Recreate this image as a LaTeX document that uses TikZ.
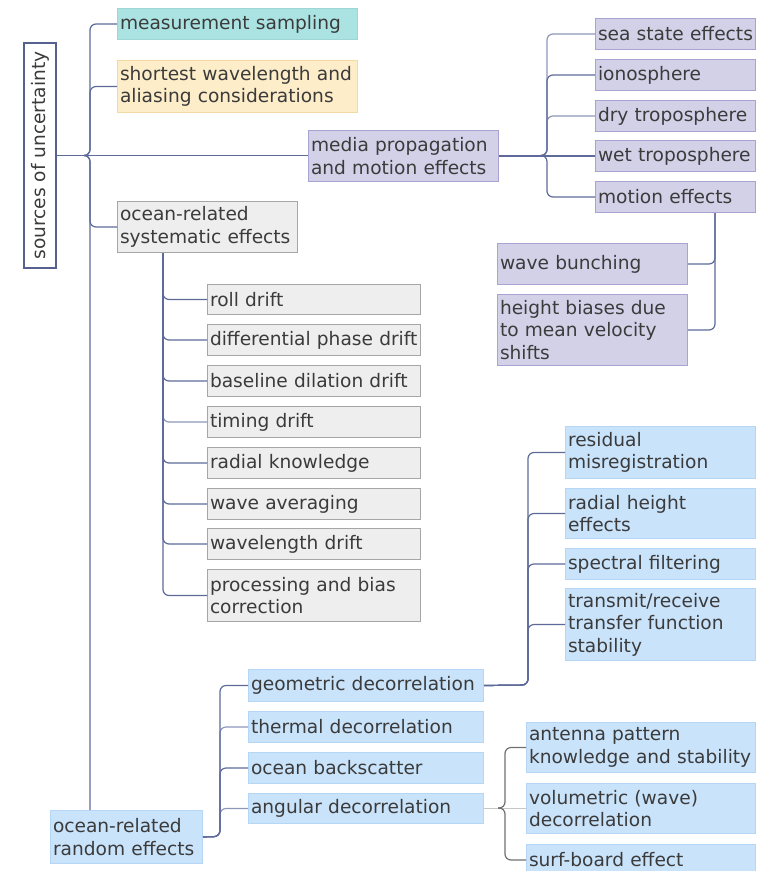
\documentclass[tikz,border=0pt]{standalone}
\usepackage{fontspec}
\setmainfont{DejaVu Sans}
\usetikzlibrary{calc}
\hyphenpenalty=10000
\exhyphenpenalty=10000

\definecolor{txt}{HTML}{3B3B3B}
\definecolor{lnk}{HTML}{5D6A9A}
\definecolor{lnklight}{HTML}{8E97BA}
\definecolor{bracegray}{HTML}{707070}
\definecolor{bracelight}{HTML}{C6C6C6}
\definecolor{rootline}{HTML}{56618F}
\definecolor{tealfill}{HTML}{ABE3E3}
\definecolor{tealline}{HTML}{9ED6D6}
\definecolor{yelfill}{HTML}{FDEDC9}
\definecolor{yelline}{HTML}{F3D9A4}
\definecolor{purfill}{HTML}{D3D1E8}
\definecolor{purline}{HTML}{A8A3D3}
\definecolor{gryfill}{HTML}{EEEEEE}
\definecolor{gryline}{HTML}{A6A6A6}
\definecolor{blufill}{HTML}{C9E3FB}
\definecolor{bluline}{HTML}{B6D6F6}

\tikzset{
  box/.style={draw, line width=1pt, anchor=north west, inner xsep=2.5pt,
    inner ysep=0pt, align=left, text=txt,
    font=\fontsize{18.6}{22.5}\selectfont},
  wh/.style 2 args={text width=#1pt-5pt, minimum width=#1pt, minimum height=#2pt},
  tealbox/.style={box, fill=tealfill, draw=tealline},
  yelbox/.style={box, fill=yelfill, draw=yelline},
  purbox/.style={box, fill=purfill, draw=purline},
  grybox/.style={box, fill=gryfill, draw=gryline},
  blubox/.style={box, fill=blufill, draw=bluline},
  rootbox/.style={draw=rootline, line width=1.4pt, fill=white, text=txt,
    inner sep=0pt, rotate=90, font=\fontsize{18.6}{22.5}\selectfont},
  conn/.style={draw=lnk, line width=1.2pt, rounded corners=6pt},
  connl/.style={draw=lnklight, line width=1.2pt, rounded corners=6pt},
  braceline/.style={draw=bracegray, line width=1.2pt, rounded corners=6pt},
  bracelinel/.style={draw=bracelight, line width=1.6pt},
}

\begin{document}
\begin{tikzpicture}[x=1pt, y=-1pt]
\useasboundingbox (0,0) rectangle (756,871);

% root
\node[rootbox, minimum width=225pt, minimum height=32pt] (src) at (40,155.5) {sources of uncertainty};

% first level
\node[tealbox, wh={240}{31}] (meas) at (117,8) {measurement sampling};
\node[yelbox, wh={240}{52}] (short) at (117,60) {shortest wavelength and\\aliasing considerations};
\node[purbox, wh={190}{51}] (media) at (308,130) {media propagation\\and motion effects};
\node[grybox, wh={180}{51}] (syst) at (117,201) {ocean-related\\systematic effects};
\node[blubox, wh={152}{53}] (rand) at (50,810) {ocean-related\\random effects};

% media propagation and motion effects
\node[purbox, wh={159.5}{31}] (sea) at (595,18) {\mbox{sea state effects}};
\node[purbox, wh={159.5}{31}] (iono) at (595,59) {ionosphere};
\node[purbox, wh={159.5}{31}] (dry) at (595,100) {\mbox{dry troposphere}};
\node[purbox, wh={159.5}{31}] (wet) at (595,140) {\mbox{wet troposphere}};
\node[purbox, wh={159.5}{31}] (motion) at (595,181) {\mbox{motion effects}};
\node[purbox, wh={190}{41}] (wb) at (497,243) {wave bunching};
\node[purbox, wh={190}{71}] (hb) at (497,294) {height biases due\\to mean velocity\\shifts};

% systematic effects
\node[grybox, wh={213}{30}] (roll) at (207,284) {roll drift};
\node[grybox, wh={213}{31}] (diff) at (207,324) {\mbox{differential phase drift}};
\node[grybox, wh={213}{31}] (base) at (207,365) {baseline dilation drift};
\node[grybox, wh={213}{31}] (timing) at (207,406) {timing drift};
\node[grybox, wh={213}{31}] (radk) at (207,447) {radial knowledge};
\node[grybox, wh={213}{31}] (wavg) at (207,488) {wave averaging};
\node[grybox, wh={213}{31}] (wld) at (207,528) {wavelength drift};
\node[grybox, wh={213}{52}] (proc) at (207,569) {processing and bias\\correction};

% random effects
\node[blubox, wh={235}{32}] (geo) at (248,669) {\mbox{geometric decorrelation}};
\node[blubox, wh={235}{31}] (therm) at (248,711) {thermal decorrelation};
\node[blubox, wh={235}{31}] (back) at (248,752) {ocean backscatter};
\node[blubox, wh={235}{30}] (ang) at (248,793) {angular decorrelation};

\node[blubox, wh={189.5}{52}] (res) at (565,426) {residual\\misregistration};
\node[blubox, wh={189.5}{50}] (rh) at (565,488) {radial height\\effects};
\node[blubox, wh={189.5}{31}] (spec) at (565,548) {spectral filtering};
\node[blubox, wh={189.5}{72}] (trans) at (565,588) {transmit/receive\\transfer function\\stability};

\node[blubox, wh={228.5}{50}] (ant) at (526,722) {antenna pattern\\\mbox{knowledge and stability}};
\node[blubox, wh={228.5}{50}] (vol) at (526,783) {volumetric (wave)\\decorrelation};
\node[blubox, wh={228.5}{31}] (surf) at (526,844) {surf-board effect};

% ---- connectors ----
% root fan-out
\coordinate (t1) at (84,155.5);
\coordinate (m1) at (90,155.5);
\draw[conn] (src.south) -- (src.south -| media.west);
\draw[conn] (t1) -- (m1) |- (meas.west);
\draw[conn] (t1) -- (m1) |- (short.west);
\draw[conn] (t1) -- (m1) |- (syst.west);
\draw[conn] (t1) -- (m1) -- (m1 |- rand.north);

% systematic effects
\coordinate (s2) at ([xshift=46pt]syst.south west);
\draw[connl] (s2) |- (timing.west);
\foreach \n in {roll,diff,base,radk,wavg,wld,proc}
  \draw[conn] (s2) |- (\n.west);

% media propagation branches
\coordinate (t2) at (541,155.5);
\coordinate (m2) at (547,155.5);
\draw[connl] (t2) -- (m2) |- (sea.west);
\draw[connl] (t2) -- (m2) |- (dry.west);
\draw[conn] (t2) -- (m2) |- (iono.west);
\draw[conn] (t2) -- (m2) |- (motion.west);
\draw[conn] (media.east) -- (media.east -| wet.west);

% motion effects
\coordinate (s3) at ([xshift=120pt]motion.south west);
\draw[conn] (s3) |- (wb.east);
\draw[conn] (s3) |- (hb.east);

% random effects
\coordinate (m4) at (220,836.5);
\draw[connl] (rand.east) -- (m4) |- (therm.west);
\draw[connl] (rand.east) -- (m4) |- (ang.west);
\draw[conn] (rand.east) -- (m4) |- (geo.west);
\draw[conn] (rand.east) -- (m4) |- (back.west);

% geometric decorrelation
\coordinate (m5) at (528,685);
\foreach \n in {res,rh,spec,trans}
  \draw[conn] (geo.east) -- (m5) |- (\n.west);

% angular decorrelation
\coordinate (t6) at (498,808);
\coordinate (m6) at (505,808);
\draw[bracelinel] (ang.east) -- (ang.east -| vol.west);
\draw[braceline] (t6) -- (m6) |- (ant.west);
\draw[braceline] (t6) -- (m6) |- (surf.west);
\end{tikzpicture}
\end{document}
